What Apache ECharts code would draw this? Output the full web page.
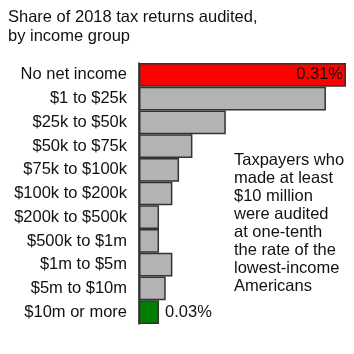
<!DOCTYPE html>
<html>
<head>
    <meta charset="utf-8">
    <title>Tax audits</title>
    <script type="text/javascript" src="https://cdn.jsdelivr.net/npm/echarts@6/dist/echarts.min.js"></script>
    <style>
        body { margin: 0; background: #fff; }
    </style>
</head>
<body>
	<div id="main" style="height:354px; width:354px;"></div>
	<script type="text/javascript">
	var categories = ['No net income', '$1 to $25k', '$25k to $50k', '$50k to $75k', '$75k to $100k',
	    '$100k to $200k', '$200k to $500k', '$500k to $1m', '$1m to $5m', '$5m to $10m', '$10m or more'];
	var auditRates = [0.31, 0.28, 0.13, 0.08, 0.06, 0.05, 0.03, 0.03, 0.05, 0.04, 0.03];
	var labelled = {0: 'inside', 10: 'right'};
	var barColors = {0: '#ff0000', 10: '#008000'};

	var font = '"Liberation Sans", Arial, sans-serif';
	var myChart = echarts.init(document.getElementById('main'));

	var barData = auditRates.map(function(v, k) {
	    var item = {
	        value: v,
	        itemStyle: {color: barColors[k] || '#b3b3b3'}
	    };
	    if (labelled[k]) {
	        item.label = {
	            show: true,
	            position: labelled[k] == 'inside' ? 'insideRight' : 'right',
	            distance: labelled[k] == 'inside' ? 3 : 6,
	            formatter: v.toFixed(2) + '%',
	            color: '#111',
	            fontFamily: font,
	            fontSize: 16.5
	        };
	    }
	    return item;
	});

	var option = {
	    animation: false,
	    title: {
	        text: 'Share of 2018 tax returns audited,\nby income group',
	        left: 3,
	        top: 3,
	        textStyle: {
	            fontFamily: font,
	            fontSize: 16.5,
	            fontWeight: 'normal',
	            color: '#111',
	            lineHeight: 19
	        }
	    },
	    grid: {left: 139, right: 8, top: 63, bottom: 30},
	    xAxis: {
	        type: 'value',
	        min: 0,
	        max: 0.31,
	        show: false
	    },
	    yAxis: {
	        type: 'category',
	        inverse: true,
	        data: categories,
	        axisLine: {show: true, lineStyle: {color: '#111', width: 1.5}},
	        axisTick: {show: false},
	        axisLabel: {
	            margin: 12,
	            fontFamily: font,
	            fontSize: 16.5,
	            color: '#111'
	        }
	    },
	    series: [{
	        type: 'bar',
	        data: barData,
	        barWidth: '100%',
	        itemStyle: {borderColor: '#333', borderWidth: 1.5}
	    }],
	    graphic: [{
	        type: 'text',
	        left: 234,
	        top: 151,
	        style: {
	            text: 'Taxpayers who\nmade at least\n$10 million\nwere audited\nat one-tenth\nthe rate of the\nlowest-income\nAmericans',
	            fontFamily: font,
	            fontSize: 16.5,
	            lineHeight: 18,
	            fill: '#111'
	        }
	    }]
	};
	myChart.setOption(option);
	</script>
</body>
</html>
